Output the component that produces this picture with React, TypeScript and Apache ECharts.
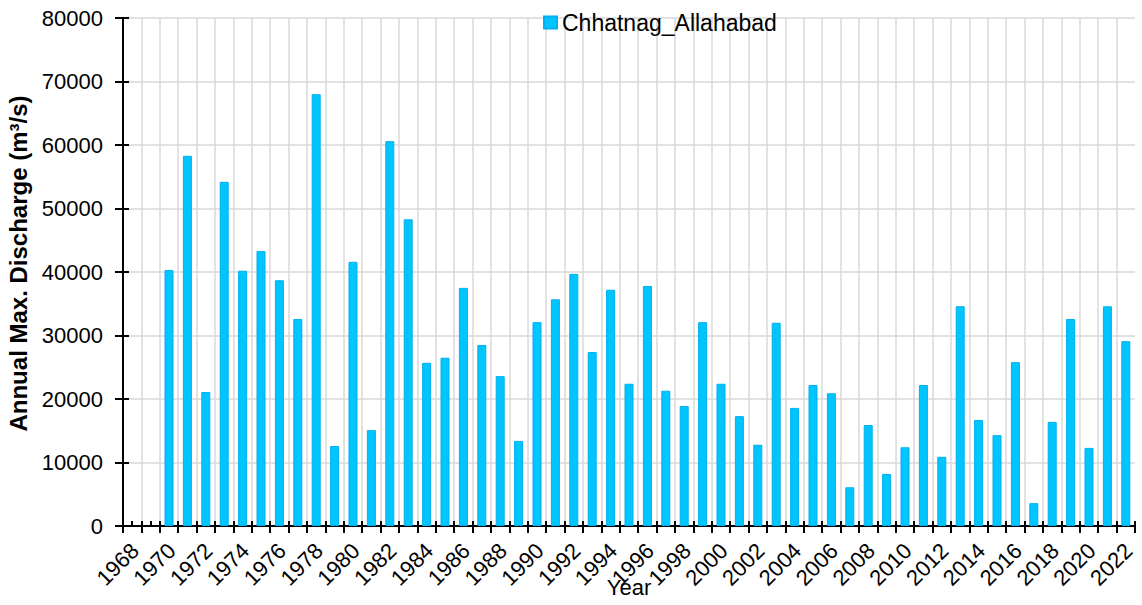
import React, { useEffect, useRef } from "react";
import * as echarts from "echarts";

const seriesName = "Chhatnag_Allahabad";
const years = [
  1970, 1971, 1972, 1973, 1974, 1975, 1976, 1977, 1978, 1979,
  1980, 1981, 1982, 1983, 1984, 1985, 1986, 1987, 1988, 1989,
  1990, 1991, 1992, 1993, 1994, 1995, 1996, 1997, 1998, 1999,
  2000, 2001, 2002, 2003, 2004, 2005, 2006, 2007, 2008, 2009,
  2010, 2011, 2012, 2013, 2014, 2015, 2016, 2017, 2018, 2019,
  2020, 2021, 2022,
];
const discharge = [
  40300, 58300, 21100, 54200, 40200, 43300, 38700, 32600, 68000, 12600,
  41600, 15100, 60600, 48300, 25700, 26500, 37500, 28500, 23600, 13400,
  32100, 35700, 39700, 27400, 37200, 22400, 37800, 21300, 18900, 32100,
  22400, 17300, 12800, 32000, 18600, 22200, 20900, 6100, 15900, 8200,
  12400, 22200, 10900, 34600, 16700, 14300, 25800, 3600, 16400, 32600,
  12300, 34600, 29100,
];
const xMin = 1968;
const xMax = 2023;
const yMax = 80000;
const yStep = 10000;

const FONT = "'Liberation Sans', Arial, sans-serif";

export default function App() {
  const ref = useRef<HTMLDivElement>(null);
  useEffect(() => {
    document.body.style.margin = "0";
    if (!ref.current) return;
    const chart = echarts.init(ref.current, null, { renderer: "svg" });
    const data = years.map((y, i) => [y + 0.5, discharge[i]]);
    const black = { color: "#000", width: 2 };
    chart.setOption({
      animation: false,
      textStyle: { fontFamily: FONT },
      grid: {
        left: 123,
        right: 7,
        top: 18,
        bottom: 79,
        containLabel: false,
        outerBoundsMode: "none",
      },
      legend: {
        data: [seriesName],
        left: 543,
        top: 11,
        padding: 0,
        icon: "rect",
        itemWidth: 13,
        itemHeight: 12,
        textStyle: { fontSize: 23, color: "#000", fontFamily: FONT },
      },
      xAxis: [
        {
          type: "value",
          min: xMin,
          max: xMax,
          interval: 1,
          position: "bottom",
          name: "Year",
          nameLocation: "middle",
          nameGap: 50,
          nameMoveOverlap: false,
          nameTextStyle: { fontSize: 22, color: "#000", fontFamily: FONT },
          axisLine: { show: true, lineStyle: black },
          axisTick: { show: true, length: 7, lineStyle: black },
          axisLabel: {
            rotate: 45,
            fontSize: 22,
            lineHeight: 34,
            verticalAlign: "top",
            color: "#000",
            fontFamily: FONT,
            margin: 9,
            formatter: (v: number) => (v % 2 === 0 && v <= 2022 ? String(v) : ""),
          },
          splitLine: {
            show: true,
            showMaxLine: false,
            lineStyle: { color: "#d9d9d9", width: 1.5 },
          },
        },
        {
          type: "value",
          min: xMin,
          max: xMax,
          interval: 1,
          position: "bottom",
          axisLine: { show: false },
          axisTick: { show: true, inside: true, length: 5, lineStyle: black },
          minorTick: { show: true, splitNumber: 2, length: 5, lineStyle: black },
          axisLabel: { show: false },
          splitLine: { show: false },
        },
      ],
      yAxis: [
        {
          type: "value",
          min: 0,
          max: yMax,
          interval: yStep,
          position: "left",
          name: "Annual Max. Discharge (m³/s)",
          nameLocation: "middle",
          nameGap: 90,
          nameTextStyle: {
            fontSize: 24,
            fontWeight: "bold",
            color: "#000",
            fontFamily: FONT,
            padding: [0, 0, 0, 17],
          },
          axisLine: { show: true, lineStyle: black },
          axisTick: { show: true, length: 8, lineStyle: black },
          axisLabel: {
            fontSize: 22,
            color: "#000",
            fontFamily: FONT,
            margin: 20,
            formatter: (v: number) => String(v),
          },
          splitLine: { show: true, lineStyle: { color: "#d9d9d9", width: 1.5 } },
        },
        {
          type: "value",
          min: 0,
          max: yMax,
          interval: yStep,
          position: "left",
          axisLine: { show: false },
          axisTick: { show: true, inside: true, length: 6, lineStyle: black },
          axisLabel: { show: false },
          splitLine: { show: false },
        },
      ],
      series: [
        {
          name: seriesName,
          type: "bar",
          xAxisIndex: 0,
          yAxisIndex: 0,
          barWidth: 9,
          data,
          itemStyle: { color: "#00C5FF", borderColor: "#00B0F0", borderWidth: 1 },
        },
      ],
    });
    return () => chart.dispose();
  }, []);
  return <div ref={ref} style={{ width: 1142, height: 605 }} />;
}
